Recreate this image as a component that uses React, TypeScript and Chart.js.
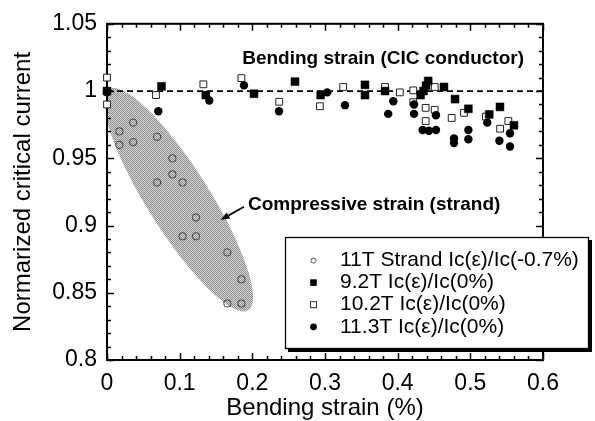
import React, { useEffect, useRef } from 'react';
import { Chart, registerables } from 'chart.js';
Chart.register(...registerables);

// ---------- data ----------
const strandX = [0.017, 0.036, 0.017, 0.036, 0.069, 0.09, 0.09, 0.069, 0.104, 0.1225, 0.104, 0.1225, 0.1656, 0.185, 0.1656, 0.185];
const strandY = [0.97, 0.9765, 0.96, 0.962, 0.966, 0.95, 0.938, 0.932, 0.932, 0.906, 0.892, 0.892, 0.88, 0.86, 0.842, 0.842];

const t92X = [0, 0.075, 0.136, 0.2023, 0.2587, 0.294, 0.355, 0.355, 0.3826, 0.4315, 0.4355, 0.439, 0.442, 0.4637, 0.479, 0.4973, 0.526, 0.5408, 0.56];
const t92Y = [1.0, 1.0035, 0.997, 0.998, 1.007, 0.997, 1.0046, 0.997, 1.0, 0.997, 1.0, 1.004, 1.0075, 1.003, 0.994, 0.9868, 0.9826, 0.9882, 0.9745];

const t102X = [0, 0, 0.0674, 0.1326, 0.185, 0.237, 0.293, 0.325, 0.3826, 0.403, 0.4215, 0.4215, 0.4385, 0.4385, 0.451, 0.451, 0.4743, 0.4913, 0.5215, 0.541, 0.5523];
const t102Y = [1.01, 0.99, 0.997, 1.005, 1.0096, 0.992, 0.9887, 1.003, 1.003, 0.999, 1.0005, 0.9917, 0.9875, 0.9777, 1.003, 0.986, 0.98, 0.9838, 0.981, 0.972, 0.9777];

const t113X = [0, 0.0706, 0.1408, 0.1885, 0.2367, 0.303, 0.3275, 0.387, 0.394, 0.4225, 0.4225, 0.4344, 0.443, 0.4527, 0.4527, 0.4775, 0.4775, 0.4973, 0.4973, 0.5233, 0.54, 0.5546, 0.5546];
const t113Y = [0.999, 0.985, 0.993, 1.0042, 0.985, 0.999, 0.9895, 0.983, 0.9924, 0.99, 0.983, 0.971, 0.9705, 0.971, 0.982, 0.9647, 0.9613, 0.971, 0.9642, 0.9765, 0.963, 0.9686, 0.9588];

const refLineX = [0, 0.6];
const refLineY = [1, 1];

const seriesLabels = [
  '11T Strand Ic(\u03b5)/Ic(-0.7%)',
  '9.2T Ic(\u03b5)/Ic(0%)',
  '10.2T Ic(\u03b5)/Ic(0%)',
  '11.3T Ic(\u03b5)/Ic(0%)',
];

// compressive-strain band (ellipse, data units): centre and two half-axis vectors
const bandCenter = [0.0985, 0.9192];
const bandAxisA = [0.0958, -0.0822];
const bandAxisB = [0.0365, 0.0122];

const xLimits = [0, 0.6];
const yLimits = [0.8, 1.05];
const xMajor = 0.1;
const yMajor = 0.05;
const xMinor = 0.02;
const yMinor = 0.01;

const annotationTop = 'Bending strain (CIC conductor)';
const annotationBand = 'Compressive strain (strand)';

const FONT = '"Liberation Sans", Arial, Helvetica, sans-serif';

const pts = (xs: number[], ys: number[]) => xs.map((v, i) => ({ x: v, y: ys[i] }));

function makePattern(ctx: CanvasRenderingContext2D) {
  const c = document.createElement('canvas');
  c.width = 2;
  c.height = 2;
  const p = c.getContext('2d')!;
  p.fillStyle = '#d6d6d6';
  p.fillRect(0, 0, 2, 2);
  p.fillStyle = '#8e8e8e';
  p.fillRect(0, 0, 1, 1);
  p.fillRect(1, 1, 1, 1);
  return ctx.createPattern(c, 'repeat');
}

const framePlugin = {
  id: 'framePlugin',
  beforeDatasetsDraw(chart: any) {
    const { ctx, chartArea: a, scales } = chart;
    const xs = scales.x;
    const ys = scales.y;
    // band
    ctx.save();
    ctx.beginPath();
    ctx.rect(a.left, a.top, a.right - a.left, a.bottom - a.top);
    ctx.clip();
    ctx.beginPath();
    const n = 160;
    for (let i = 0; i <= n; i++) {
      const t = (i / n) * Math.PI * 2;
      const dx = bandCenter[0] + Math.cos(t) * bandAxisA[0] + Math.sin(t) * bandAxisB[0];
      const dy = bandCenter[1] + Math.cos(t) * bandAxisA[1] + Math.sin(t) * bandAxisB[1];
      const px = xs.getPixelForValue(dx);
      const py = ys.getPixelForValue(dy);
      if (i === 0) ctx.moveTo(px, py);
      else ctx.lineTo(px, py);
    }
    ctx.closePath();
    ctx.fillStyle = makePattern(ctx) || '#b4b4b4';
    ctx.fill();
    ctx.restore();

    // ticks
    ctx.save();
    ctx.strokeStyle = '#000';
    ctx.lineWidth = 1.5;
    ctx.beginPath();
    const nx = Math.round((xLimits[1] - xLimits[0]) / xMinor);
    const perX = Math.round(xMajor / xMinor);
    for (let i = 0; i <= nx; i++) {
      const v = xLimits[0] + i * xMinor;
      const px = Math.round(xs.getPixelForValue(v)) + 0.5;
      const len = i % perX === 0 ? 7 : 4;
      ctx.moveTo(px, a.bottom);
      ctx.lineTo(px, a.bottom - len);
      ctx.moveTo(px, a.top);
      ctx.lineTo(px, a.top + len);
    }
    const ny = Math.round((yLimits[1] - yLimits[0]) / yMinor);
    const perY = Math.round(yMajor / yMinor);
    for (let i = 0; i <= ny; i++) {
      const v = yLimits[0] + i * yMinor;
      const py = Math.round(ys.getPixelForValue(v)) + 0.5;
      const len = i % perY === 0 ? 7 : 4;
      ctx.moveTo(a.left, py);
      ctx.lineTo(a.left + len, py);
      ctx.moveTo(a.right, py);
      ctx.lineTo(a.right - len, py);
    }
    ctx.stroke();
    ctx.lineWidth = 2;
    ctx.strokeRect(a.left, a.top, a.right - a.left, a.bottom - a.top);
    ctx.restore();
  },
  afterDatasetsDraw(chart: any) {
    const { ctx, scales } = chart;
    const xs = scales.x;
    const ys = scales.y;
    ctx.save();
    ctx.fillStyle = '#000';
    ctx.font = 'bold 19px ' + FONT;
    ctx.textAlign = 'left';
    ctx.textBaseline = 'middle';
    ctx.fillText(annotationTop, xs.getPixelForValue(0.186), ys.getPixelForValue(1.0238));
    ctx.fillText(annotationBand, xs.getPixelForValue(0.194), ys.getPixelForValue(0.9152));
    // arrow
    const x0 = xs.getPixelForValue(0.1885);
    const y0 = ys.getPixelForValue(0.914);
    const x1 = xs.getPixelForValue(0.1565);
    const y1 = ys.getPixelForValue(0.9042);
    const ang = Math.atan2(y1 - y0, x1 - x0);
    const hl = 9;
    const hw = 3.5;
    const bx = x1 - Math.cos(ang) * hl;
    const by = y1 - Math.sin(ang) * hl;
    ctx.strokeStyle = '#000';
    ctx.lineWidth = 1.8;
    ctx.beginPath();
    ctx.moveTo(x0, y0);
    ctx.lineTo(bx, by);
    ctx.stroke();
    ctx.beginPath();
    ctx.moveTo(x1, y1);
    ctx.lineTo(bx + Math.sin(ang) * hw, by - Math.cos(ang) * hw);
    ctx.lineTo(bx - Math.sin(ang) * hw, by + Math.cos(ang) * hw);
    ctx.closePath();
    ctx.fill();
    ctx.restore();
  },
  afterDraw(chart: any) {
    const { ctx } = chart;
    const bx = 285;
    const by = 237;
    const bw = 304;
    const bh = 112;
    ctx.save();
    ctx.fillStyle = '#000';
    ctx.fillRect(bx + 3, by + 3, bw, bh);
    ctx.fillStyle = '#fff';
    ctx.fillRect(bx, by, bw, bh);
    ctx.strokeStyle = '#000';
    ctx.lineWidth = 1.3;
    ctx.strokeRect(bx + 0.5, by + 0.5, bw - 1, bh - 1);
    ctx.font = '21px ' + FONT;
    ctx.textAlign = 'left';
    ctx.textBaseline = 'middle';
    const mx = 313.5;
    seriesLabels.forEach((lab, i) => {
      const yy = 260.5 + i * 22.1;
      ctx.fillStyle = '#000';
      ctx.strokeStyle = '#000';
      ctx.lineWidth = 1;
      if (i === 0) {
        ctx.strokeStyle = '#555';
        ctx.beginPath();
        ctx.arc(mx, yy, 2.6, 0, Math.PI * 2);
        ctx.stroke();
      } else if (i === 1) {
        ctx.fillRect(mx - 3.3, yy - 3.3, 6.6, 6.6);
      } else if (i === 2) {
        ctx.strokeStyle = '#333';
        ctx.strokeRect(mx - 3, yy - 3, 6, 6);
      } else {
        ctx.beginPath();
        ctx.arc(mx, yy, 3.4, 0, Math.PI * 2);
        ctx.fill();
      }
      ctx.fillStyle = '#000';
      ctx.fillText(lab, 340, yy);
    });
    ctx.restore();
  },
};

const fmt = (v: any) => String(+Number(v).toFixed(2));

export default function App() {
  const ref = useRef<HTMLCanvasElement | null>(null);
  useEffect(() => {
    if (!ref.current) return;
    const chart = new Chart(ref.current, {
      type: 'scatter',
      data: {
        datasets: [
          {
            label: seriesLabels[0],
            data: pts(strandX, strandY),
            pointStyle: 'circle',
            pointRadius: 3.7,
            backgroundColor: 'rgba(0,0,0,0)',
            borderColor: '#404040',
            borderWidth: 1,
            clip: false,
            order: 5,
          },
          {
            label: seriesLabels[1],
            data: pts(t92X, t92Y),
            pointStyle: 'rect',
            pointRadius: 5.6,
            backgroundColor: '#000',
            borderColor: '#000',
            borderWidth: 0.5,
            clip: false,
            order: 2,
          },
          {
            label: seriesLabels[2],
            data: pts(t102X, t102Y),
            pointStyle: 'rect',
            pointRadius: 4.8,
            backgroundColor: '#fff',
            borderColor: '#222',
            borderWidth: 1,
            clip: false,
            order: 3,
          },
          {
            label: seriesLabels[3],
            data: pts(t113X, t113Y),
            pointStyle: 'circle',
            pointRadius: 4.2,
            backgroundColor: '#000',
            borderColor: '#000',
            borderWidth: 0,
            clip: false,
            order: 1,
          },
          {
            label: '',
            data: pts(refLineX, refLineY),
            showLine: true,
            pointRadius: 0,
            borderColor: '#000',
            borderWidth: 1.8,
            borderDash: [6, 4],
            clip: false,
            order: 10,
          } as any,
        ],
      },
      options: {
        animation: false,
        responsive: false,
        devicePixelRatio: 1,
        events: [],
        layout: { padding: { left: 0, right: 52, top: 20, bottom: 0 } },
        plugins: { legend: { display: false }, tooltip: { enabled: false } },
        scales: {
          x: {
            type: 'linear',
            min: xLimits[0],
            max: xLimits[1],
            border: { display: false },
            grid: { display: false, drawTicks: false },
            ticks: {
              stepSize: xMajor,
              padding: 10,
              color: '#000',
              font: { family: FONT, size: 23 },
              maxRotation: 0,
              autoSkip: false,
              callback: fmt,
            },
            title: {
              display: true,
              text: 'Bending strain (%)',
              color: '#000',
              font: { family: FONT, size: 24, lineHeight: 1 },
              padding: { top: 0, bottom: 1 },
            },
            afterFit: (s: any) => {
              s.height = 61;
            },
          },
          y: {
            type: 'linear',
            min: yLimits[0],
            max: yLimits[1],
            border: { display: false },
            grid: { display: false, drawTicks: false },
            ticks: {
              stepSize: yMajor,
              padding: 10,
              color: '#000',
              font: { family: FONT, size: 23 },
              autoSkip: false,
              callback: fmt,
            },
            title: {
              display: true,
              text: 'Normarized critical current',
              color: '#000',
              font: { family: FONT, size: 24, lineHeight: 1 },
              padding: { top: 11, bottom: 0 },
            },
            afterFit: (s: any) => {
              s.width = 107;
            },
          },
        },
      } as any,
      plugins: [framePlugin],
    });
    return () => chart.destroy();
  }, []);
  return (
    <div style={{ position: 'absolute', left: 0, top: 0, width: 595, height: 421, background: '#fff' }}>
      <canvas ref={ref} width={595} height={421} style={{ width: 595, height: 421, display: 'block' }} />
    </div>
  );
}
